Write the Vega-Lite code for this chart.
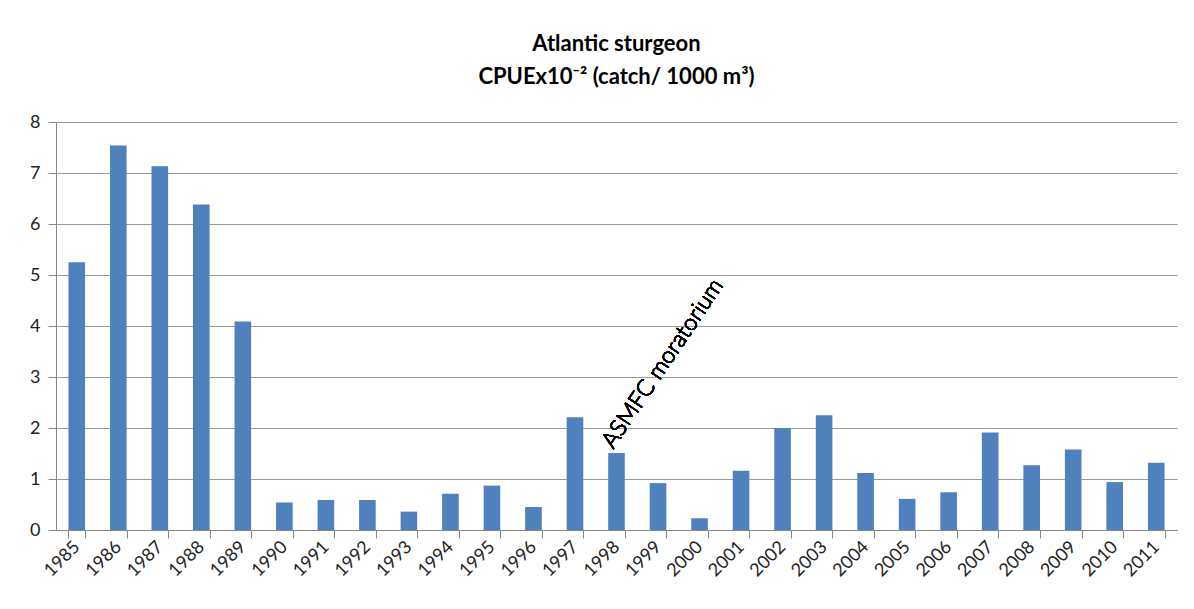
{
  "$schema": "https://vega.github.io/schema/vega-lite/v6.json",
  "width": 1121,
  "height": 408,
  "autosize": {"type": "none"},
  "padding": {"left": 56, "top": 122, "right": 17, "bottom": 79},
  "background": "white",
  "title": {
    "text": ["Atlantic sturgeon", "CPUEx10⁻² (catch/ 1000 m³)"],
    "font": "Lato",
    "fontSize": 22,
    "fontWeight": "bold",
    "color": "black",
    "lineHeight": 33,
    "anchor": "middle",
    "offset": 24
  },
  "data": {
    "values": [
      {"year": "1985", "cpue": 5.25},
      {"year": "1986", "cpue": 7.54},
      {"year": "1987", "cpue": 7.13},
      {"year": "1988", "cpue": 6.38},
      {"year": "1989", "cpue": 4.09},
      {"year": "1990", "cpue": 0.54},
      {"year": "1991", "cpue": 0.59},
      {"year": "1992", "cpue": 0.59},
      {"year": "1993", "cpue": 0.36},
      {"year": "1994", "cpue": 0.71},
      {"year": "1995", "cpue": 0.87},
      {"year": "1996", "cpue": 0.45},
      {"year": "1997", "cpue": 2.21},
      {"year": "1998", "cpue": 1.51},
      {"year": "1999", "cpue": 0.92},
      {"year": "2000", "cpue": 0.23},
      {"year": "2001", "cpue": 1.16},
      {"year": "2002", "cpue": 2.0},
      {"year": "2003", "cpue": 2.25},
      {"year": "2004", "cpue": 1.12},
      {"year": "2005", "cpue": 0.61},
      {"year": "2006", "cpue": 0.74},
      {"year": "2007", "cpue": 1.91},
      {"year": "2008", "cpue": 1.27},
      {"year": "2009", "cpue": 1.58},
      {"year": "2010", "cpue": 0.94},
      {"year": "2011", "cpue": 1.32}
    ]
  },
  "layer": [
    {
      "mark": {"type": "bar", "color": "#4F81BD"},
      "encoding": {
        "x": {
          "field": "year",
          "type": "ordinal",
          "scale": {"paddingInner": 0.6, "paddingOuter": 0.3},
          "axis": {
            "title": null,
            "labelAngle": -45,
            "labelAlign": "right",
            "labelBaseline": "middle",
            "labelFont": "Lato",
            "labelFontSize": 18,
            "labelColor": "#222222",
            "labelPadding": 6,
            "tickBand": "extent",
            "tickSize": 8,
            "tickColor": "#868686",
            "domainColor": "#868686",
            "grid": false
          }
        },
        "y": {
          "field": "cpue",
          "type": "quantitative",
          "scale": {"domain": [0, 8]},
          "axis": {
            "title": null,
            "values": [0, 1, 2, 3, 4, 5, 6, 7, 8],
            "labelFont": "Lato",
            "labelFontSize": 18,
            "labelColor": "#222222",
            "labelPadding": 8,
            "tickSize": 8,
            "tickColor": "#868686",
            "domainColor": "#868686",
            "grid": true,
            "gridColor": "#9a9a9a",
            "gridWidth": 1
          }
        }
      }
    },
    {
      "mark": {
        "type": "text",
        "text": "ASMFC moratorium",
        "angle": -56,
        "align": "left",
        "baseline": "alphabetic",
        "font": "Lato",
        "fontSize": 23,
        "fontWeight": 300,
        "color": "black",
        "dx": -6
      },
      "encoding": {
        "x": {"datum": "1998", "type": "ordinal"},
        "y": {"datum": 1.67, "type": "quantitative"}
      }
    }
  ],
  "config": {"view": {"stroke": null}}
}
